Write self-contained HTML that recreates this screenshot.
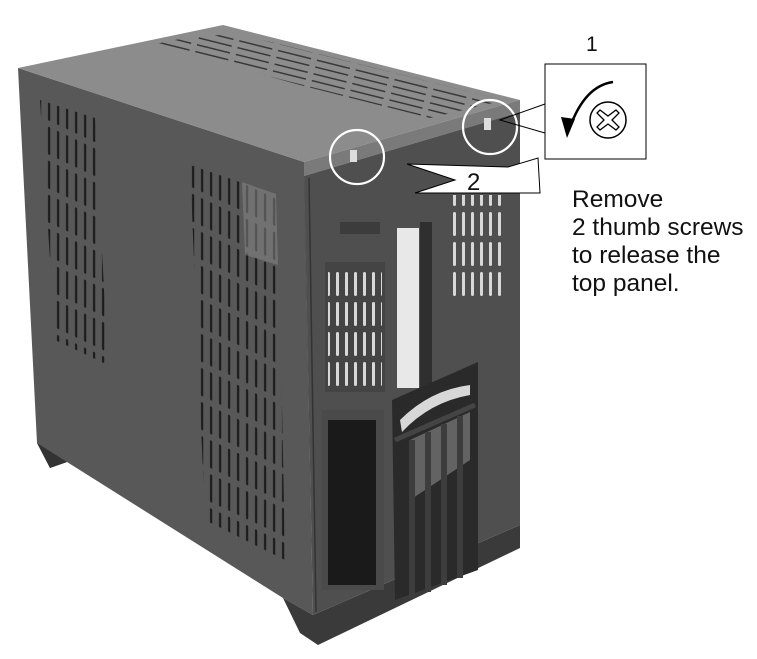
<!DOCTYPE html>
<html><head><meta charset="utf-8"><style>
html,body{margin:0;padding:0;background:#fff;}
svg{display:block}
text{font-family:"Liberation Sans",Arial,sans-serif;fill:#111}
</style></head><body>
<svg width="757" height="659" viewBox="0 0 757 659" xmlns="http://www.w3.org/2000/svg">
<defs>
<pattern id="vs" width="9" height="34" patternUnits="userSpaceOnUse" patternTransform="skewY(25)">
<rect x="3" y="2" width="2.2" height="28" rx="1.1" fill="#1c1c1c"/>
</pattern>
<pattern id="vf" width="9" height="30" patternUnits="userSpaceOnUse">
<rect x="3" y="2" width="3" height="24" rx="1.5" fill="#d8d8d8"/>
</pattern>
<pattern id="vt" width="40" height="7" patternUnits="userSpaceOnUse" patternTransform="rotate(14)">
<rect x="2" y="2" width="34" height="1.5" fill="#2a2a2a"/>
</pattern>
<clipPath id="topc"><polygon points="30,70 223,30 510,102 304,155"/></clipPath>
</defs>
<polygon points="18,68 304,162 313,615 283,598 67,462 50,468 37,443" fill="#585858"/>
<polygon points="37,443 67,462 50,468" fill="#333"/>
<polygon points="283,598 313,615 520,525 520,548 318,645 300,633" fill="#3a3a3a"/>
<polygon points="18,68 223,25 520,100 304,162" fill="#8c8c8c"/>
<g clip-path="url(#topc)">
<polygon points="145,42 230,34 470,80 505,100 430,118 300,85" fill="url(#vt)" opacity="0.85"/>
</g>
<polygon points="304,162 520,100 520,112 304,176" fill="#7a7a7a"/>
<polygon points="304,176 520,112 520,525 313,615" fill="#4f4f4f"/>
<line x1="309" y1="178" x2="316" y2="612" stroke="#333" stroke-width="1.5"/>
<polygon points="40,100 95,118 108,365 55,340" fill="url(#vs)"/>
<polygon points="190,165 278,195 285,560 205,520" fill="url(#vs)"/>
<polygon points="242,182 276,194 278,265 245,255" fill="#8a8a8a" opacity="0.5"/>
<rect x="452" y="195" width="50" height="105" fill="url(#vf)"/>
<rect x="325" y="262" width="60" height="130" fill="#444"/>
<rect x="328" y="270" width="54" height="118" fill="url(#vf)"/>
<rect x="340" y="222" width="40" height="12" fill="#3c3c3c"/>
<rect x="397" y="228" width="22" height="160" fill="#e8e8e8"/>
<rect x="420" y="222" width="12" height="170" fill="#2f2f2f"/>
<rect x="322" y="410" width="62" height="180" fill="#4a4a4a"/>
<rect x="328" y="420" width="48" height="165" fill="#1a1a1a"/>
<polygon points="392,400 478,362 478,570 395,600" fill="#2a2a2a"/>
<path d="M400,420 Q430,390 470,385 L470,395 Q430,402 402,432 Z" fill="#d8d8d8"/>
<polygon points="410,440 470,412 470,460 410,500" fill="#cfcfcf" opacity="0.35"/>
<g stroke="#3d3d3d" stroke-width="6">
<line x1="412" y1="440" x2="412" y2="598"/><line x1="428" y1="432" x2="428" y2="592"/>
<line x1="444" y1="424" x2="444" y2="585"/><line x1="460" y1="416" x2="460" y2="578"/>
</g>
<line x1="395" y1="440" x2="475" y2="405" stroke="#444" stroke-width="5"/>
<circle cx="357" cy="157" r="27" fill="none" stroke="#fff" stroke-width="2.2"/>
<circle cx="490" cy="127" r="27" fill="none" stroke="#fff" stroke-width="2.2"/>
<rect x="350" y="150" width="7" height="12" fill="#ddd"/>
<rect x="484" y="118" width="7" height="12" fill="#ddd"/>
<polyline points="545,104 500,120 545,133" fill="none" stroke="#000" stroke-width="1"/>
<rect x="545" y="64" width="101" height="95" fill="#fff" stroke="#000" stroke-width="1"/>
<circle cx="608" cy="120" r="18" fill="none" stroke="#000" stroke-width="1.5"/>
<path d="M600,110 L608,116 L616,110 L619,113 L612,120 L619,127 L616,130 L608,124 L600,130 L597,127 L604,120 L597,113 Z" fill="none" stroke="#000" stroke-width="1.3"/>
<path d="M613,82 Q584,86 569,130" fill="none" stroke="#000" stroke-width="2.5"/>
<path d="M561,117 L567,138 L575,119 Z" fill="#000"/>
<text x="586" y="51" font-size="21">1</text>
<polygon points="407,164 508,167 538,158 540,193 415,193 455,180" fill="#fff" stroke="#000" stroke-width="1"/>
<text x="467" y="190" font-size="24">2</text>
<text x="572" y="207" font-size="24.5">Remove</text>
<text x="572" y="235" font-size="24.5">2 thumb screws</text>
<text x="572" y="263" font-size="24.5">to release the</text>
<text x="572" y="291" font-size="24.5">top panel.</text>
</svg>
</body></html>
